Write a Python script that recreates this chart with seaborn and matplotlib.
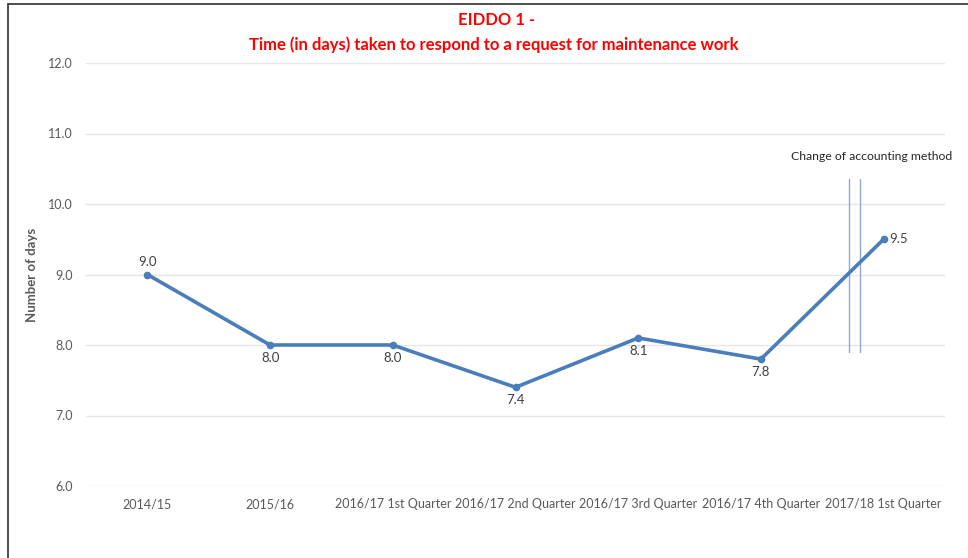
import matplotlib
matplotlib.use("Agg")
import matplotlib.pyplot as plt
import seaborn as sns
import pandas as pd
from matplotlib.lines import Line2D

categories = ["2014/15", "2015/16", "2016/17 1st Quarter", "2016/17 2nd Quarter",
              "2016/17 3rd Quarter", "2016/17 4th Quarter", "2017/18 1st Quarter"]
values = [9.0, 8.0, 8.0, 7.4, 8.1, 7.8, 9.5]
label_pos = ["above", "below", "below", "below", "below", "below", "right"]
yticks = [6.0, 7.0, 8.0, 9.0, 10.0, 11.0, 12.0]

sns.set_theme(style="white")
plt.rcParams['font.family'] = ['Lato', 'DejaVu Sans']

df = pd.DataFrame({"x": range(len(categories)), "y": values})

fig = plt.figure(figsize=(9.68, 5.58), dpi=100)
ax = fig.add_axes([86/968, 1-486/558, (945-86)/968, (486-63)/558])

for t in yticks:
    ax.axhline(t, color="#e6e6e6", lw=1.0, zorder=0)

sns.lineplot(data=df, x="x", y="y", ax=ax, color="#4a7ebb", lw=2.6,
             marker="o", markersize=5.5, markeredgewidth=0, zorder=3)

for i, (v, p) in enumerate(zip(values, label_pos)):
    if p == "above":
        ax.annotate(f"{v:.1f}", (i, v), xytext=(0, 5), textcoords="offset points",
                    ha="center", va="bottom", fontsize=9.5, color="#404040")
    elif p == "below":
        ax.annotate(f"{v:.1f}", (i, v), xytext=(0, -5), textcoords="offset points",
                    ha="center", va="top", fontsize=9.5, color="#404040")
    else:
        ax.annotate(f"{v:.1f}", (i, v), xytext=(4, 0), textcoords="offset points",
                    ha="left", va="center", fontsize=9.5, color="#404040")

# change of accounting method marker lines
for xv in (5.72, 5.81):
    ax.plot([xv, xv], [7.9, 10.36], color="#8eaadb", lw=1.0, zorder=2)
ax.text(5.9, 10.6, "Change of accounting method", ha="center", va="bottom",
        fontsize=8.8, color="#262626")

ax.set_xlim(-0.5, 6.5)
ax.set_ylim(6.0, 12.0)
ax.set_yticks(yticks)
ax.set_yticklabels([f"{t:.1f}" for t in yticks])
ax.set_xticks(range(len(categories)))
ax.set_xticklabels(categories)
ax.tick_params(axis="both", length=0, labelsize=9, labelcolor="#595959")
ax.tick_params(axis="x", pad=9)
ax.tick_params(axis="y", pad=9.5)
ax.set_xlabel("")
ax.set_ylabel("Number of days", fontsize=9.5, fontweight="bold", color="#595959", labelpad=7)
for s in ax.spines.values():
    s.set_visible(False)

fig.text(497/968, 1-20/558, "EIDDO 1 -", ha="center", va="center",
         fontsize=12, fontweight="bold", color="#ff0000")
fig.text(494/968, 1-45/558, "Time (in days) taken to respond to a request for maintenance work",
         ha="center", va="center", fontsize=12, fontweight="bold", color="#ff0000")

# outer frame (top and left)
fig.add_artist(Line2D([8/968, 8/968], [0, 1-4/558], transform=fig.transFigure,
                      color="#404040", lw=1.3))
fig.add_artist(Line2D([8/968, 1], [1-4/558, 1-4/558], transform=fig.transFigure,
                      color="#404040", lw=1.3))

fig.savefig("out.png", dpi=100)
